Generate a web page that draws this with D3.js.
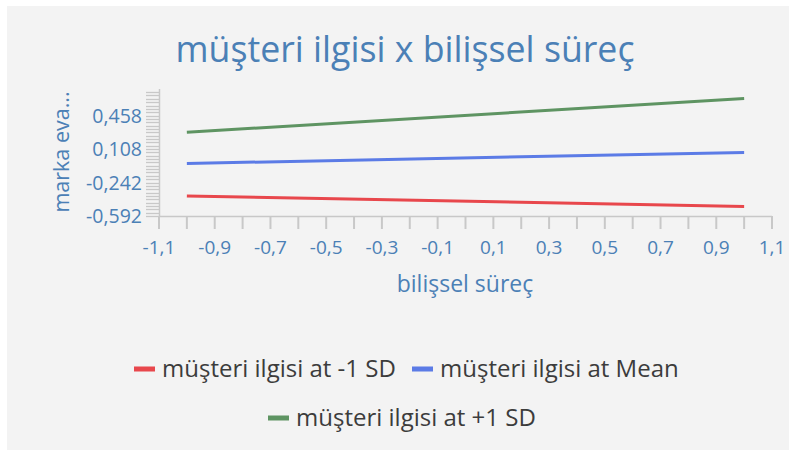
<!DOCTYPE html>
<html><head><meta charset="utf-8">
<script src="https://cdn.jsdelivr.net/npm/d3@7/dist/d3.min.js"></script>
<style>
html,body{margin:0;padding:0;background:#fff;}
svg{display:block;font-family:"Open Sans","Noto Sans",sans-serif;}
</style></head><body>
<svg id="c" width="789" height="450"></svg>
<script>
const title = "müşteri ilgisi x bilişsel süreç";
const xTitle = "bilişsel süreç";
const yTitle = "marka eva...";
const xPoints = [-1, 1];
const seriesNames = ["müşteri ilgisi at -1 SD", "müşteri ilgisi at Mean", "müşteri ilgisi at +1 SD"];
const lowValues = [-0.382, -0.494];
const meanValues = [-0.043, 0.073];
const highValues = [0.283, 0.637];
const seriesColors = ["#e8474c", "#5b7be6", "#5e9462"];
const xTickLabels = ["-1,1","-0,9","-0,7","-0,5","-0,3","-0,1","0,1","0,3","0,5","0,7","0,9","1,1"];
const yTickValues = [-0.592, -0.242, 0.108, 0.458];
const yTickLabels = ["-0,592","-0,242","0,108","0,458"];

const svg = d3.select("#c");
svg.append("rect").attr("x",7).attr("y",6).attr("width",782).attr("height",444).attr("fill","#f3f3f3");

const x = d3.scaleLinear().domain([-1.1, 1.1]).range([159, 772]);
const y = d3.scaleLinear().domain([-0.592, 0.7355]).range([216, 89]);
const textBlue = "#4b80b6";

svg.append("text").attr("x",405).attr("y",62).attr("text-anchor","middle")
  .attr("font-size",35.7).attr("fill",textBlue).text(title);

// y minor ticks
const yMinor = d3.range(0, 38).map(i => -0.592 + i*0.035).filter(v => v <= 0.7355 + 1e-9);
const yAxisG = svg.append("g");
yAxisG.selectAll("line.m").data(yMinor).enter().append("line")
  .attr("x1",146).attr("x2",159).attr("y1",d=>Math.round(y(d))+0.5).attr("y2",d=>Math.round(y(d))+0.5)
  .attr("stroke","#c8c8c8").attr("stroke-width",1.3);
yAxisG.append("line").attr("x1",159.5).attr("x2",159.5).attr("y1",89).attr("y2",216)
  .attr("stroke","#c8c8c8").attr("stroke-width",1.5);
yAxisG.selectAll("text").data(yTickValues).enter().append("text")
  .attr("x",142).attr("y",d=>y(d)+7).attr("text-anchor","end")
  .attr("font-size",19.5).attr("fill",textBlue).text((d,i)=>yTickLabels[i]);

// x axis
const xTicks = d3.range(0, 23).map(i => -1.1 + i*0.1);
const xAxisG = svg.append("g");
xAxisG.append("line").attr("x1",159).attr("x2",772).attr("y1",216.5).attr("y2",216.5)
  .attr("stroke","#c8c8c8").attr("stroke-width",1.5);
xAxisG.selectAll("line.t").data(xTicks).enter().append("line")
  .attr("x1",d=>x(d)).attr("x2",d=>x(d)).attr("y1",216).attr("y2",229)
  .attr("stroke","#c8c8c8").attr("stroke-width",2);
xAxisG.selectAll("text").data(xTickLabels).enter().append("text")
  .attr("x",(d,i)=>x(-1.1 + i*0.2)).attr("y",254).attr("text-anchor","middle")
  .attr("font-size",19).attr("fill",textBlue).text(d=>d);

svg.append("text").attr("x",465).attr("y",292).attr("text-anchor","middle")
  .attr("font-size",23).attr("fill",textBlue).text(xTitle);
svg.append("text").attr("transform","translate(69,152) rotate(-90)").attr("text-anchor","middle")
  .attr("font-size",21.5).attr("fill",textBlue).text(yTitle);

// lines
const allSeries = [lowValues, meanValues, highValues];
const line = d3.line().x((d,i)=>x(xPoints[i])).y(d=>y(d));
svg.selectAll("path.s").data(allSeries).enter().append("path")
  .attr("d", line).attr("fill","none").attr("stroke",(d,i)=>seriesColors[i]).attr("stroke-width",3);

// legend
const legendPos = [[134,369],[412,369],[268,418]];
const lg = svg.selectAll("g.l").data(seriesNames).enter().append("g")
  .attr("transform",(d,i)=>`translate(${legendPos[i][0]},${legendPos[i][1]})`);
lg.append("rect").attr("x",0).attr("y",-2.5).attr("width",21).attr("height",5).attr("fill",(d,i)=>seriesColors[i]);
lg.append("text").attr("x",28).attr("y",8).attr("font-size",24).attr("fill","#3c3c3c").text(d=>d);
</script>
</body></html>
